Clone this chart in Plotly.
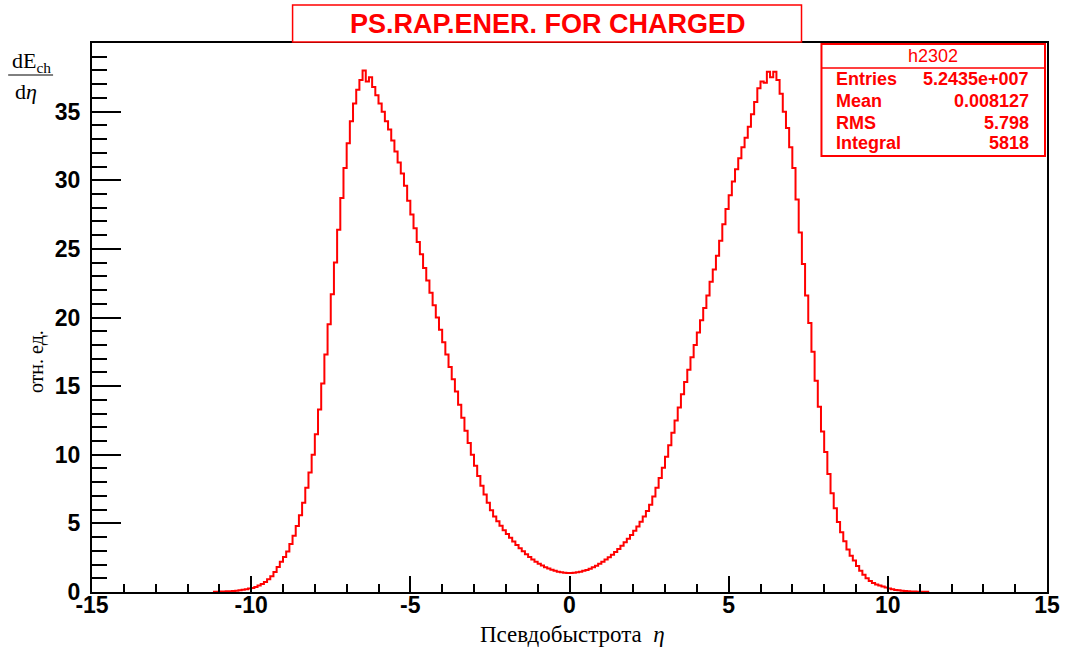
import plotly.graph_objects as go

# ---------------- data ----------------
hist_name = "h2302"
title_text = "PS.RAP.ENER. FOR CHARGED"
x_title = "Псевдобыстрота  <i>η</i>"
y_unit = "отн. ед."
y_num = "dE<sub>ch</sub>"
y_den = "d<i>η</i>"

first_edge = -11.2
bin_width = 0.1

# bin contents, eta < 0 (bins from -11.2 to 0.0)
counts_neg = [
    0.02, 0.02, 0.03, 0.04, 0.05, 0.06, 0.08, 0.10, 0.13, 0.16,
    0.20, 0.25, 0.30, 0.37, 0.47, 0.58, 0.72, 0.92, 1.15, 1.45,
    1.82, 2.20, 2.55, 2.95, 3.50, 4.10, 4.80, 5.60, 6.50, 7.60,
    8.70, 10.0, 11.5, 13.3, 15.2, 17.3, 19.5, 21.7, 24.0, 26.4,
    28.7, 30.9, 32.7, 34.3, 35.6, 36.6, 37.3, 38.0, 37.2, 37.5,
    36.8, 36.2, 35.6, 35.0, 34.3, 33.7, 32.9, 32.1, 31.3, 30.5,
    29.6, 28.5, 27.5, 26.5, 25.5, 24.6, 23.6, 22.7, 21.8, 20.9,
    20.0, 19.1, 18.2, 17.3, 16.4, 15.5, 14.6, 13.65, 12.7, 11.75,
    10.85, 10.0, 9.2, 8.45, 7.75, 7.1, 6.5, 5.95, 5.5, 5.15,
    4.82, 4.5, 4.22, 3.95, 3.68, 3.42, 3.18, 2.96, 2.75, 2.55,
    2.37, 2.21, 2.06, 1.93, 1.81, 1.71, 1.62, 1.54, 1.48, 1.44,
    1.41, 1.39,
]

# bin contents, eta > 0 (bins from 0.0 to 11.3)
counts_pos = [
    1.39, 1.41, 1.44, 1.48, 1.54, 1.61, 1.70, 1.80, 1.92, 2.05,
    2.20, 2.36, 2.53, 2.72, 2.92, 3.14, 3.37, 3.62, 3.88, 4.16,
    4.46, 4.78, 5.12, 5.50, 5.90, 6.35, 6.95, 7.60, 8.30, 9.05,
    9.85, 10.7, 11.6, 12.5, 13.45, 14.4, 15.3, 16.2, 17.1, 18.0,
    18.9, 19.8, 20.7, 21.6, 22.6, 23.5, 24.5, 25.6, 26.8, 27.9,
    28.9, 29.9, 30.8, 31.6, 32.4, 33.1, 33.9, 34.8, 35.7, 36.7,
    37.2, 37.1, 37.9, 37.5, 37.9, 37.3, 36.3, 35.0, 33.8, 32.4,
    30.9, 28.6, 26.2, 23.9, 21.6, 19.6, 17.5, 15.4, 13.5, 11.7,
    10.2, 8.6, 7.2, 6.1, 5.1, 4.35, 3.7, 3.1, 2.65, 2.3,
    1.9, 1.55, 1.25, 1.0, 0.8, 0.65, 0.55, 0.48, 0.4, 0.32,
    0.25, 0.2, 0.15, 0.12, 0.09, 0.07, 0.05, 0.04, 0.03, 0.02,
    0.02, 0.01, 0.01,
]

stats_labels = ["Entries", "Mean", "RMS", "Integral"]
stats_values = ["5.2435e+007", "0.008127", "5.798", "5818"]

x_ticks = [-15, -10, -5, 0, 5, 10, 15]
y_ticks = [0, 5, 10, 15, 20, 25, 30, 35]

# ---------------- layout helpers ----------------
W, H = 1072, 653
L, R, T, B = 92, 23, 43, 61
PW, PH = W - L - R, H - T - B


def px(x):
    return (x - L) / PW


def py(y):
    return (H - B - y) / PH


SANS = "Arial, 'Liberation Sans', sans-serif"
SERIF = "'Times New Roman', 'Liberation Serif', serif"
RED = "#ff0000"

counts = counts_neg + counts_pos
edges = [first_edge + i * bin_width for i in range(len(counts) + 1)]

fig = go.Figure()
fig.add_trace(go.Scatter(
    x=edges,
    y=counts + [counts[-1]],
    mode="lines",
    line=dict(color=RED, width=2, shape="hv"),
    hoverinfo="skip",
    showlegend=False,
))

axis_common = dict(
    showline=True, mirror=True, linecolor="black", linewidth=2,
    showgrid=False, zeroline=False,
    ticks="inside", tickcolor="black", tickwidth=2,
    tickfont=dict(family=SANS, size=23, color="black", weight="bold"),
)

fig.update_xaxes(
    range=[-15, 15], tickvals=x_ticks, ticktext=[str(v) for v in x_ticks],
    ticklen=16,
    minor=dict(dtick=1, ticks="inside", ticklen=8, tickcolor="black", tickwidth=2),
    ticklabelstandoff=-9,
    **axis_common,
)
fig.update_yaxes(
    range=[0, 40], tickvals=y_ticks, ticktext=[str(v) for v in y_ticks],
    ticklen=29,
    minor=dict(dtick=1, ticks="inside", ticklen=15, tickcolor="black", tickwidth=2),
    ticklabelstandoff=5,
    **axis_common,
)

shapes = [
    # title frame
    dict(type="rect", xref="paper", yref="paper",
         x0=px(293), x1=px(803), y0=py(42), y1=py(5),
         line=dict(color=RED, width=1.5), fillcolor="white", layer="above"),
    # statistics box
    dict(type="rect", xref="paper", yref="paper",
         x0=px(823), x1=px(1047), y0=py(156), y1=py(44),
         line=dict(color=RED, width=2), fillcolor="white", layer="above"),
    dict(type="line", xref="paper", yref="paper",
         x0=px(823), x1=px(1047), y0=py(68), y1=py(68),
         line=dict(color=RED, width=1.5)),
    # fraction bar of the y-axis label
    dict(type="line", xref="paper", yref="paper",
         x0=px(8), x1=px(53), y0=py(75), y1=py(75),
         line=dict(color="black", width=1)),
]

ann = [
    dict(text=f"<b>{title_text}</b>", x=px(549), y=py(24),
         font=dict(family=SANS, size=27, color=RED)),
    dict(text=hist_name, x=px(935), y=py(56),
         font=dict(family=SANS, size=18, color=RED)),
    dict(text=y_num, x=px(31), y=py(62),
         font=dict(family=SERIF, size=22, color="black")),
    dict(text=y_den, x=px(26), y=py(91),
         font=dict(family=SERIF, size=22, color="black")),
    dict(text=y_unit, x=px(36), y=py(362), textangle=-90,
         font=dict(family=SERIF, size=20, color="black")),
    dict(text=x_title, x=px(574), y=py(634),
         font=dict(family=SERIF, size=23, color="black")),
]

row_y = [79, 101, 122.5, 143]
for lab, val, yy in zip(stats_labels, stats_values, row_y):
    ann.append(dict(text=f"<b>{lab}</b>", x=px(836), y=py(yy), xanchor="left",
                    font=dict(family=SANS, size=18, color=RED)))
    ann.append(dict(text=f"<b>{val}</b>", x=px(1033), y=py(yy), xanchor="right",
                    font=dict(family=SANS, size=18, color=RED)))

for a in ann:
    a.setdefault("xanchor", "center")
    a.update(xref="paper", yref="paper", yanchor="middle", showarrow=False)

fig.update_layout(
    width=W, height=H,
    margin=dict(l=L, r=R, t=T, b=B),
    paper_bgcolor="white", plot_bgcolor="white",
    shapes=shapes, annotations=ann,
    showlegend=False,
)

fig.write_html("out.html")
